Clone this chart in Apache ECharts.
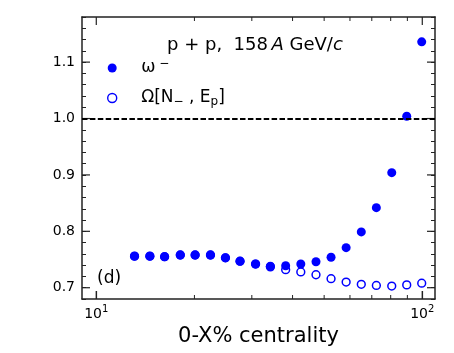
<!DOCTYPE html>
<html>
<head>
<meta charset="utf-8">
<script src="https://cdn.jsdelivr.net/npm/echarts@6/dist/echarts.min.js"></script>
<style>
  html, body { margin: 0; padding: 0; background: #fff; }
  #chart { width: 454px; height: 353px; }
</style>
</head>
<body>
<div id="chart"></div>
<script>
// centrality classes (0-X%) and the two ratios
const xVals = [13.1, 14.6, 16.2, 18.1, 20.1, 22.4, 24.9, 27.6, 30.8, 34.2,
  38.1, 42.4, 47.2, 52.5, 58.4, 65.0, 72.3, 80.6, 89.6, 99.6];
const omegaMinus = [0.756, 0.756, 0.755, 0.758, 0.758, 0.758, 0.753, 0.747, 0.742, 0.738,
  0.739, 0.742, 0.746, 0.754, 0.771, 0.799, 0.842, 0.904, 1.004, 1.136];
const omegaNE = [0.756, 0.756, 0.755, 0.758, 0.758, 0.758, 0.753, 0.747, 0.742, 0.737,
  0.732, 0.728, 0.723, 0.716, 0.710, 0.706, 0.704, 0.703, 0.705, 0.708];
const xMajorTicks = [10, 100];
const xMinorTicks = [20, 30, 40, 50, 60, 70, 80, 90];
const yMajorTicks = [0.7, 0.8, 0.9, 1.0, 1.1];
const refLine = 1.0;

const FONT = "DejaVu Sans";
const BLUE = "#0000ff";

const chart = echarts.init(document.getElementById("chart"), null, { renderer: "canvas" });

function isPow10(v) {
  const l = Math.log10(v);
  return Math.abs(l - Math.round(l)) < 1e-6;
}
function isTenth(v) {
  return Math.abs(v * 10 - Math.round(v * 10)) < 1e-6;
}

const frameLine = { show: true, onZero: false, lineStyle: { color: "#222", width: 1.5 } };

// draws the ticks of a list of x values on bottom and top edges
function xTickSeries(values, len, width) {
  return {
    type: "custom",
    xAxisIndex: 0, yAxisIndex: 0,
    silent: true,
    data: values.map((v) => [v, 0.9]),
    renderItem: (params, api) => {
      const cs = params.coordSys;
      const x = api.coord([api.value(0), 0.9])[0];
      const st = { stroke: "#222", lineWidth: width };
      return {
        type: "group",
        children: [
          { type: "line", shape: { x1: x, y1: cs.y + cs.height, x2: x, y2: cs.y + cs.height - len }, style: st },
          { type: "line", shape: { x1: x, y1: cs.y, x2: x, y2: cs.y + len }, style: st },
        ],
      };
    },
  };
}

chart.setOption({
  animation: false,
  backgroundColor: "#fff",
  textStyle: { fontFamily: FONT },
  grid: { left: 82, right: 19, top: 17, bottom: 54 },
  title: {
    text: "p + p,  158\u2009{i|A} GeV/{i|c}",
    left: 162,
    top: 31,
    textStyle: {
      fontFamily: FONT, fontSize: 18, fontWeight: "normal", color: "#000",
      rich: { i: { fontFamily: FONT, fontSize: 18, fontStyle: "italic", color: "#000" } },
    },
  },
  legend: {
    orient: "vertical",
    left: 102,
    top: 53,
    itemWidth: 48,
    itemHeight: 9,
    itemGap: 10,
    selectedMode: false,
    textStyle: {
      fontFamily: FONT, fontSize: 17, color: "#000", lineHeight: 20,
      rich: {
        sup: { fontFamily: FONT, fontSize: 12, verticalAlign: "top", lineHeight: 20, color: "#000" },
        sub: { fontFamily: FONT, fontSize: 12, verticalAlign: "bottom", lineHeight: 20, color: "#000" },
      },
    },
    formatter: (name) => name === "omegaMinus" ? "ω{sup| −}" : "Ω[N{sub|−} , E{sub|p}]",
    data: [
      { name: "omegaMinus", icon: "circle", itemStyle: { color: BLUE } },
      { name: "omegaNE", icon: "circle", itemStyle: { color: "#fff", borderColor: BLUE, borderWidth: 1.4 } },
    ],
  },
  xAxis: [
    {
      type: "log", logBase: 10, min: 9.04, max: 109.4,
      position: "bottom",
      axisLine: frameLine,
      axisTick: { show: true, inside: true, length: 8, lineStyle: { color: "#222", width: 1.2 } },
      splitLine: { show: false },
      axisLabel: {
        showMinLabel: false, showMaxLabel: false,
        margin: 5, fontFamily: FONT, fontSize: 14, color: "#000",
        formatter: (v) => isPow10(v) ? "{b|10}{s|" + Math.round(Math.log10(v)) + "}" : "",
        rich: {
          b: { fontFamily: FONT, fontSize: 14, lineHeight: 17, verticalAlign: "bottom", color: "#000" },
          s: { fontFamily: FONT, fontSize: 10, lineHeight: 17, verticalAlign: "top", color: "#000" },
        },
      },
      name: "0-X% centrality",
      nameLocation: "middle",
      nameGap: 27,
      nameTextStyle: { fontFamily: FONT, fontSize: 21, color: "#000" },
    },
    {
      type: "log", logBase: 10, min: 9.04, max: 109.4,
      position: "top",
      axisLine: frameLine,
      axisTick: { show: false },
      splitLine: { show: false },
      axisLabel: { show: false },
    },
  ],
  yAxis: [
    {
      type: "value", min: 0.68, max: 1.18, interval: 0.02,
      position: "left",
      axisLine: frameLine,
      axisTick: { show: true, inside: true, length: 4, lineStyle: { color: "#222", width: 1 } },
      splitLine: { show: false },
      axisLabel: {
        margin: 7, fontFamily: FONT, fontSize: 14, color: "#000",
        formatter: (v) => isTenth(v) ? v.toFixed(1) : "",
      },
    },
    {
      type: "value", min: 0.68, max: 1.18, interval: 0.02,
      position: "right",
      axisLine: frameLine,
      axisTick: { show: true, inside: true, length: 4, lineStyle: { color: "#222", width: 1 } },
      splitLine: { show: false },
      axisLabel: { show: false },
    },
  ],
  graphic: [
    {
      type: "text", left: 97, top: 270,
      style: { text: "(d)", fontFamily: FONT, fontSize: 17, fill: "#000" },
    },
  ],
  series: [
    xTickSeries(xMajorTicks, 8, 1.2),
    xTickSeries(xMinorTicks, 4, 1),
    {
      // major ticks on the y axis (left and right)
      type: "custom",
      xAxisIndex: 0, yAxisIndex: 0,
      silent: true,
      data: yMajorTicks.map((v) => [20, v]),
      renderItem: (params, api) => {
        const cs = params.coordSys;
        const y = api.coord([20, api.value(1)])[1];
        const st = { stroke: "#222", lineWidth: 1.2 };
        return {
          type: "group",
          children: [
            { type: "line", shape: { x1: cs.x, y1: y, x2: cs.x + 8, y2: y }, style: st },
            { type: "line", shape: { x1: cs.x + cs.width, y1: y, x2: cs.x + cs.width - 8, y2: y }, style: st },
          ],
        };
      },
    },
    {
      name: "omegaNE",
      type: "scatter",
      xAxisIndex: 0, yAxisIndex: 0,
      symbol: "circle",
      symbolSize: 7.8,
      itemStyle: { color: "#fff", borderColor: BLUE, borderWidth: 1.5, opacity: 1 },
      data: xVals.map((x, i) => [x, omegaNE[i]]),
      z: 3,
      markLine: {
        silent: true,
        symbol: "none",
        label: { show: false },
        lineStyle: { color: "#000", type: [5.5, 2.4], width: 1.9 },
        data: [{ yAxis: refLine }],
      },
    },
    {
      name: "omegaMinus",
      type: "scatter",
      xAxisIndex: 0, yAxisIndex: 0,
      symbol: "circle",
      symbolSize: 9,
      itemStyle: { color: BLUE, opacity: 1 },
      data: xVals.map((x, i) => [x, omegaMinus[i]]),
      z: 4,
    },
  ],
});
</script>
</body>
</html>
